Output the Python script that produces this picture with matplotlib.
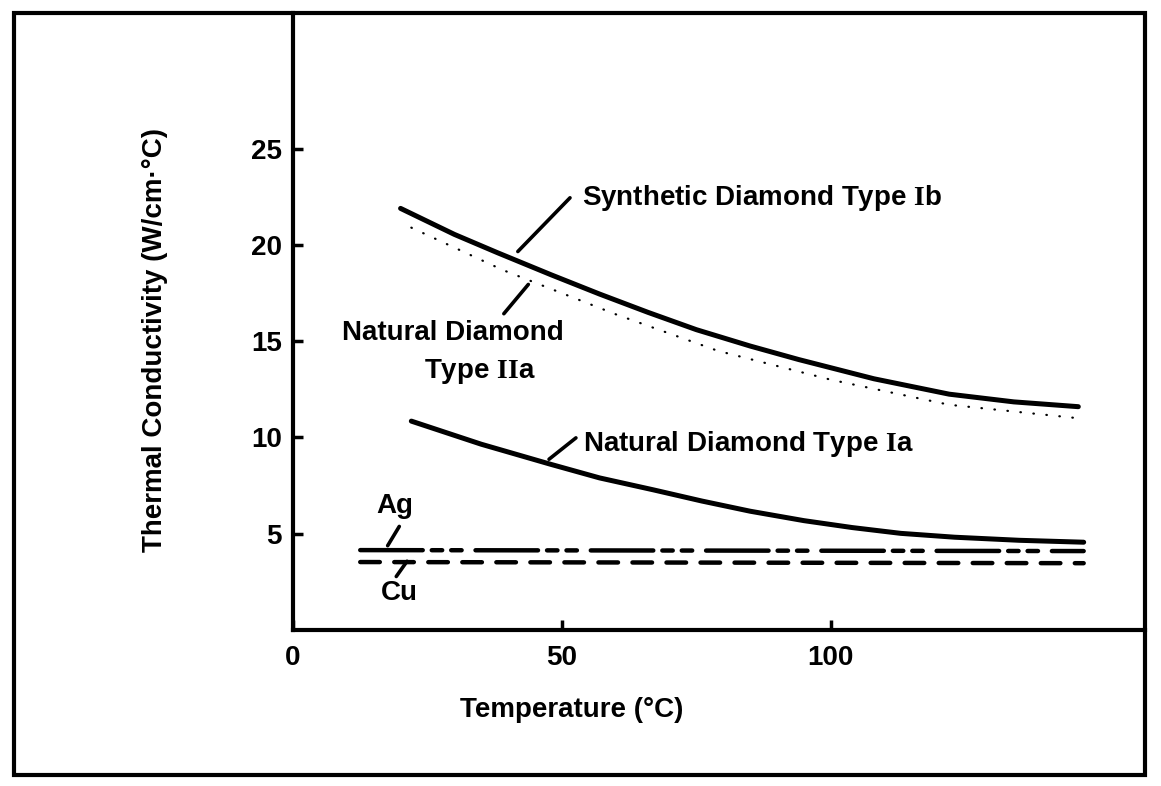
import matplotlib
matplotlib.use("Agg")
import matplotlib.pyplot as plt
from matplotlib.patches import Rectangle

plt.rcParams['font.family'] = ['Liberation Sans', 'DejaVu Sans']
plt.rcParams['font.weight'] = 'bold'
plt.rcParams['font.size'] = 20
plt.rcParams['lines.scale_dashes'] = False
# serif roman numerals in the type labels
plt.rcParams['mathtext.fontset'] = 'custom'
plt.rcParams['mathtext.bf'] = 'Liberation Serif:bold'
plt.rcParams['mathtext.rm'] = 'Liberation Serif:bold'

# thermal conductivity (W/cm C) vs temperature (C)
temp_ib = [20, 30, 38, 48, 57, 66, 75, 85, 94, 108, 122, 134, 146]
k_ib = [21.9, 20.55, 19.6, 18.45, 17.45, 16.5, 15.6, 14.75, 14.05, 13.05, 12.25, 11.85, 11.6]

temp_iia = [22, 39, 60, 79, 100, 122, 146]
k_iia = [20.9, 18.7, 16.4, 14.5, 13.0, 11.7, 11.0]

temp_ia = [22, 35, 48, 57, 67, 76, 85, 95, 104, 113, 123, 135, 147]
k_ia = [10.85, 9.65, 8.6, 7.9, 7.28, 6.7, 6.17, 5.68, 5.32, 5.02, 4.82, 4.66, 4.56]

temp_ag = [12.5, 147]
k_ag = [4.15, 4.1]
temp_cu = [12.5, 147]
k_cu = [3.53, 3.47]

xticks = [0, 50, 100]
yticks = [5, 10, 15, 20, 25]

W, H = 1161, 786
fig = plt.figure(figsize=(W / 100, H / 100), dpi=100)
ax = fig.add_axes([293 / W, 156 / H, (1145 - 293) / W, (773 - 156) / H])
ax.set_xlim(0, 158.4)
ax.set_ylim(0, 32.05)

ax.plot(temp_ib, k_ib, color='k', lw=3.6, solid_capstyle='round')
ax.plot(temp_iia, k_iia, color='k', lw=1.6, dashes=(0.4, 9), dash_capstyle='round')
ax.plot(temp_ia, k_ia, color='k', lw=3.6, solid_capstyle='round')
ax.plot(temp_ag, k_ag, color='k', lw=3.2, dash_capstyle='round',
        dashes=(45, 6.5, 7.5, 6.5, 7.5, 10))
ax.plot(temp_cu, k_cu, color='k', lw=3.2, dash_capstyle='round',
        dashes=(14.1, 10.4))

# leader lines from labels to curves
leaders = [
    ((41.8, 51.5), (19.66, 22.45)),
    ((39.2, 43.75), (16.43, 17.95)),
    ((47.6, 52.6), (8.87, 9.98)),
    ((17.6, 19.76), (4.38, 5.38)),
    ((19.2, 21.2), (2.78, 3.57)),
]
for xs, ys in leaders:
    ax.plot(xs, ys, color='k', lw=2.6, solid_capstyle='round')

ax.text(53.7, 22.46, r'Synthetic Diamond Type $\mathbf{I}$b', ha='left', va='center')
ax.text(29.8, 15.45, 'Natural Diamond', ha='center', va='center')
ax.text(34.7, 13.44, r'Type $\mathbf{II}$a', ha='center', va='center')
ax.text(53.9, 9.68, r'Natural Diamond Type $\mathbf{I}$a', ha='left', va='center')
ax.text(18.96, 6.42, 'Ag', ha='center', va='center')
ax.text(19.8, 1.9, 'Cu', ha='center', va='center')

for side in ['top', 'right']:
    ax.spines[side].set_visible(False)
for side in ['left', 'bottom']:
    ax.spines[side].set_linewidth(3)

ax.set_xticks(xticks)
ax.set_yticks(yticks)
ax.tick_params(direction='in', length=7, width=2.5, labelsize=20)
ax.tick_params(axis='x', pad=11)
ax.tick_params(axis='y', pad=8)

fig.text(155 / W, 1 - 340 / H, 'Thermal Conductivity (W/cm\u00b7\u00b0C)',
         rotation=90, ha='center', va='center')
fig.text(572 / W, 1 - 710 / H, 'Temperature (\u00b0C)', ha='center', va='center')

fig.patches.append(Rectangle((14 / W, 11 / H), (1145 - 14) / W, (775 - 13) / H,
                             transform=fig.transFigure, fill=False, lw=3, ec='k'))

fig.savefig('out.png', dpi=100)
